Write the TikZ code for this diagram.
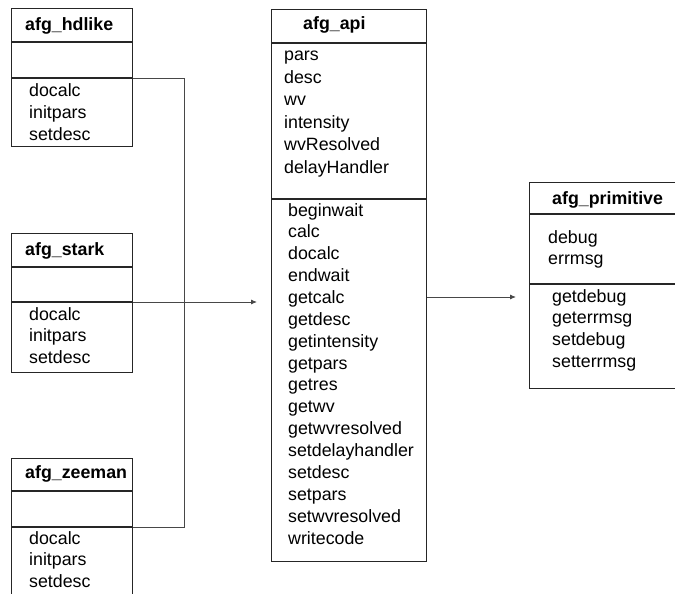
\documentclass[tikz,border=0pt]{standalone}
\usepackage{fontspec}
\setmainfont{Liberation Sans}
\usetikzlibrary{arrows.meta}
\begin{document}
\begin{tikzpicture}[x=1pt,y=-1pt,
  box/.style={draw=black!85, line width=1.3pt, rectangle, anchor=north west, inner sep=0pt},
  sepline/.style={draw=black!85, line width=1.2pt},
  conn/.style={draw=black!72, line width=0.9pt},
  arr/.style={conn, -{Latex[length=6pt,width=5pt]}},
  title/.style={font=\fontsize{17.8}{21}\selectfont\bfseries, anchor=base west, inner sep=0pt},
  item/.style={font=\fontsize{17.8}{21}\selectfont, anchor=base west, inner sep=0pt},
]
\clip (0,0) rectangle (675,594);
\useasboundingbox (0,0) rectangle (675,594);

% ---- left classes ----
\node[box, minimum width=121pt, minimum height=138pt] (hdlike) at (11,8) {};
\node[box, minimum width=121pt, minimum height=139pt] (stark) at (11,233) {};
\node[box, minimum width=121pt, minimum height=150pt] (zeeman) at (11,458) {};

\draw[sepline] (hdlike.west |- 0,42) -- (hdlike.east |- 0,42);
\draw[sepline] (hdlike.west |- 0,78) -- (hdlike.east |- 0,78);
\draw[sepline] (stark.west |- 0,267) -- (stark.east |- 0,267);
\draw[sepline] (stark.west |- 0,302) -- (stark.east |- 0,302);
\draw[sepline] (zeeman.west |- 0,491) -- (zeeman.east |- 0,491);
\draw[sepline] (zeeman.west |- 0,527) -- (zeeman.east |- 0,527);

\node[title] (hdlikeT) at (25,31) {afg\_hdlike};
\node[title] (starkT) at (25,255) {afg\_stark};
\node[title] (zeemanT) at (25,478) {afg\_zeeman};

\foreach \t [count=\i] in {docalc,initpars,setdesc} {
  \node[item] (hdlike-m\i) at (29,{96+(\i-1)*22}) {\t};
  \node[item] (stark-m\i) at (29,{320+(\i-1)*21.8}) {\t};
  \node[item] (zeeman-m\i) at (29,{544+(\i-1)*21.6}) {\t};
}

% ---- afg_api ----
\node[box, minimum width=155pt, minimum height=552pt] (api) at (271,9) {};
\draw[sepline] (api.west |- 0,43) -- (api.east |- 0,43);
\draw[sepline] (api.west |- 0,199) -- (api.east |- 0,199);
\node[title] (apiT) at (303,30) {afg\_api};
\foreach \t [count=\i] in {pars,desc,wv,intensity,wvResolved,delayHandler} {
  \node[item] (api-a\i) at (284,{61+(\i-1)*22.4}) {\t};
}
\foreach \t [count=\i] in {beginwait,calc,docalc,endwait,getcalc,getdesc,getintensity,getpars,getres,getwv,getwvresolved,setdelayhandler,setdesc,setpars,setwvresolved,writecode} {
  \node[item] (api-m\i) at (288,{216+(\i-1)*21.87}) {\t};
}

% ---- afg_primitive ----
\node[box, minimum width=160pt, minimum height=206pt] (prim) at (529,182) {};
\draw[sepline] (prim.west |- 0,214) -- (prim.east |- 0,214);
\draw[sepline] (prim.west |- 0,284) -- (prim.east |- 0,284);
\node[title] (primT) at (552,204) {afg\_primitive};
\foreach \t [count=\i] in {debug,errmsg} {
  \node[item] (prim-a\i) at (548,{243+(\i-1)*21.5}) {\t};
}
\foreach \t [count=\i] in {getdebug,geterrmsg,setdebug,setterrmsg} {
  \node[item] (prim-m\i) at (552,{302+(\i-1)*21.8}) {\t};
}

% ---- connectors ----
\coordinate (hdOut) at (hdlike.east |- 0,78);
\coordinate (stOut) at (stark.east |- 0,302);
\coordinate (zeOut) at (zeeman.east |- 0,527);
\coordinate (join) at (184,302);
\coordinate (apiIn) at (257,302);
\coordinate (apiOut) at (api.east |- 0,297);
\coordinate (primIn) at (516,297);

\draw[conn] (hdOut) -| (join);
\draw[conn] (zeOut) -| (join);
\draw[arr] (stOut) -- (apiIn);
\draw[arr] (apiOut) -- (primIn);
\end{tikzpicture}
\end{document}
